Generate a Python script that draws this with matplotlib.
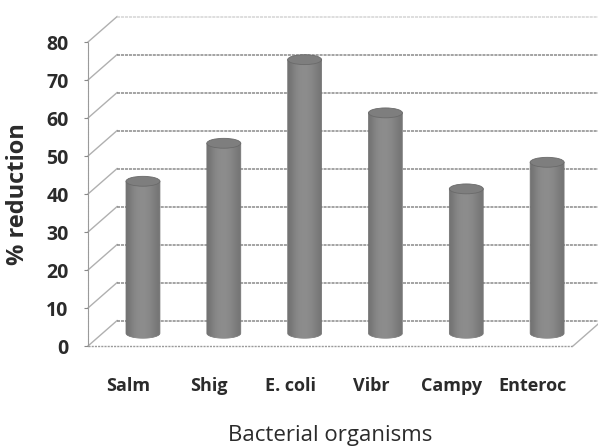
"""3D-style cylinder chart of % reduction by bacterial organism."""

import matplotlib.pyplot as plt
import numpy as np
from matplotlib.patches import Ellipse, Polygon

organisms = ["Salm", "Shig", "E. coli", "Vibr", "Campy", "Enteroc"]
reduction = [40, 50, 72, 58, 38, 45]
y_ticks = [0, 10, 20, 30, 40, 50, 60, 70, 80]

plt.rcParams["font.family"] = ["Open Sans", "DejaVu Sans"]

fig = plt.figure(figsize=(5.98, 4.47), dpi=100)
ax = fig.add_axes([88 / 598, 101 / 447, 485 / 598, 304 / 447])
ax.set_xlim(-0.5, len(organisms) - 0.5)
ax.set_ylim(0, 80)

# depth of the fake 3D box, in data units (x categories, y percent)
dx, dy = 0.36, 6.7
x0, x1 = -0.5, len(organisms) - 0.5
grid_col = "#8a8a8a"

# left wall diagonals and back wall gridlines
for v in y_ticks:
    ax.plot([x0, x0 + dx], [v, v + dy], color="#b0b0b0", lw=1.0, clip_on=False, zorder=1)
    col = "#d4d4d4" if v == y_ticks[-1] else grid_col
    ax.plot([x0 + dx, x1 + dx], [v + dy, v + dy], color=col, lw=1.1, ls=(0, (2, 0.6)),
            clip_on=False, zorder=1)

# floor: front edge and right side
ax.plot([x0, x1], [0, 0], color="#9a9a9a", lw=1.0, ls=(0, (1.5, 0.8)), clip_on=False, zorder=1)
ax.plot([x1, x1 + dx], [0, dy], color="#b0b0b0", lw=1.0, clip_on=False, zorder=1)

# cylinders
w = 0.42
eh = 2.6
shade = np.array([0.45, 0.51, 0.54, 0.55, 0.55, 0.53, 0.50, 0.46])
grad = np.tile(shade, (2, 1))
for i, val in enumerate(reduction):
    xc = i + dx / 2
    yb = dy / 2
    th = np.linspace(np.pi, 2 * np.pi, 40)
    pts = np.column_stack([xc + w / 2 * np.cos(th), yb + eh / 2 * np.sin(th)])
    pts = np.vstack([pts, [xc + w / 2, yb + val], [xc - w / 2, yb + val]])
    body = Polygon(pts, closed=True, facecolor="none", edgecolor="#6a6a6a", lw=0.5, zorder=3)
    ax.add_patch(body)
    im = ax.imshow(grad, cmap="gray", vmin=0, vmax=1, aspect="auto", interpolation="bicubic",
                   extent=[xc - w / 2, xc + w / 2, yb - eh / 2, yb + val], zorder=3)
    im.set_clip_path(body)
    ax.add_patch(Ellipse((xc, yb + val), w, eh, facecolor="#7e7e7e", edgecolor="#6a6a6a",
                         lw=0.6, zorder=4))

ax.set_xlim(-0.5, len(organisms) - 0.5)
ax.set_ylim(0, 80)

for s in ["top", "right", "bottom"]:
    ax.spines[s].set_visible(False)
ax.spines["left"].set_color("#9a9a9a")
ax.spines["left"].set_linestyle((0, (1.5, 0.8)))

ax.set_yticks(y_ticks)
ax.set_yticklabels([str(t) for t in y_ticks], fontsize=14, fontweight="bold", color="#2b2b2b")
ax.tick_params(axis="y", length=3, color="#888888", pad=11)
ax.set_xticks(range(len(organisms)))
ax.set_xticklabels(organisms, fontsize=13, fontweight="bold", color="#2b2b2b")
ax.tick_params(axis="x", length=0, pad=22)

ax.set_ylabel("% reduction", fontsize=17, fontweight="bold", color="#2b2b2b")
ax.yaxis.set_label_coords(-0.12, 0.5)
ax.set_xlabel("Bacterial organisms", fontsize=16, color="#2b2b2b")
ax.xaxis.set_label_coords(0.5, -0.26)

fig.savefig("out.png", dpi=100)
